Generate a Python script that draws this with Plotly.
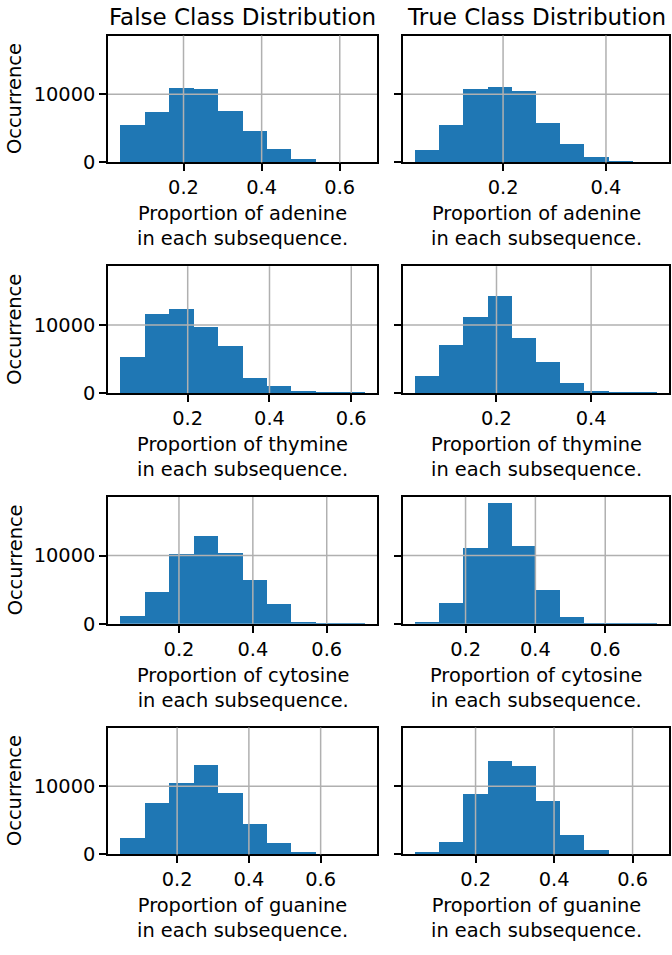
import numpy as np
import plotly.graph_objects as go

# Nucleotides shown row by row
bases = ["adenine", "thymine", "cytosine", "guanine"]
class_titles = ["False Class Distribution", "True Class Distribution"]

# Histogram bin extents (first left edge, last right edge), 10 equal bins each
false_bin_range = {
    "adenine": (0.038, 0.664),
    "thymine": (0.035, 0.633),
    "cytosine": (0.041, 0.703),
    "guanine": (0.0414, 0.723),
}
true_bin_range = {
    "adenine": (0.029, 0.499),
    "thymine": (0.028, 0.539),
    "cytosine": (0.0555, 0.748),
    "guanine": (0.046, 0.662),
}

# Occurrence counts per bin
false_adenine = [5530, 7450, 10910, 10820, 7550, 4660, 2070, 625, 100, 30]
true_adenine = [1830, 5580, 10820, 11100, 10530, 5820, 2790, 820, 190, 30]
false_thymine = [5290, 11620, 12250, 9660, 6910, 2210, 1080, 150, 40, 10]
true_thymine = [2450, 7010, 11130, 14220, 7990, 4510, 1520, 150, 30, 10]
false_cytosine = [1210, 4710, 10290, 12860, 10340, 6460, 2910, 340, 50, 10]
true_cytosine = [150, 3010, 11120, 17720, 11410, 4950, 970, 50, 10, 5]
false_guanine = [2520, 7670, 10490, 13110, 9030, 4560, 1800, 440, 50, 10]
true_guanine = [490, 1940, 8980, 13790, 13060, 7860, 2910, 730, 50, 10]

false_counts = {"adenine": false_adenine, "thymine": false_thymine,
                "cytosine": false_cytosine, "guanine": false_guanine}
true_counts = {"adenine": true_adenine, "thymine": true_thymine,
               "cytosine": true_cytosine, "guanine": true_guanine}

x_tick_values = [0.0, 0.2, 0.4, 0.6, 0.8]
y_tick_values = [0, 10000]
y_tick_labels = ["0", "10000"]

# Page geometry (pixels)
W, H = 672, 955
col_px = [(108, 377), (403, 669)]
row_top0, row_step, row_h = 36, 233.6, 128.5

BAR_COLOR = "#1f77b4"
GRID_COLOR = "#b0b0b0"
FONT = "DejaVu Sans"
TICK_SIZE = 19.4
TITLE_SIZE = 23

ymax = 1.05 * max(max(v) for d in (false_counts, true_counts) for v in d.values())

fig = go.Figure()
layout = dict(
    width=W, height=H,
    margin=dict(l=0, r=0, t=0, b=0),
    paper_bgcolor="white", plot_bgcolor="white",
    showlegend=False, bargap=0,
    font=dict(family=FONT, color="black", size=TICK_SIZE),
)
shapes, annotations = [], []

for i, base in enumerate(bases):
    top = row_top0 + i * row_step
    ydom = [1 - (top + row_h) / H, 1 - top / H]
    for j, (counts_map, range_map) in enumerate(((false_counts, false_bin_range),
                                                 (true_counts, true_bin_range))):
        k = i * 2 + j + 1
        sfx = "" if k == 1 else str(k)
        counts = counts_map[base]
        lo, hi = range_map[base]
        edges = np.linspace(lo, hi, len(counts) + 1)
        centers = (edges[:-1] + edges[1:]) / 2
        span = hi - lo
        xr = [lo - 0.05 * span, hi + 0.05 * span]

        fig.add_trace(go.Bar(
            x=centers, y=counts, width=edges[1] - edges[0],
            marker=dict(color=BAR_COLOR, line=dict(width=0)),
            xaxis="x" + sfx, yaxis="y" + sfx, hoverinfo="x+y",
        ))

        ticks_in = [t for t in x_tick_values if xr[0] < t < xr[1]]
        axis_common = dict(
            showline=True, linecolor="black", linewidth=1.5, mirror=True,
            ticks="outside", ticklen=7, tickwidth=1.5, tickcolor="black",
            showgrid=False, zeroline=False,
            tickfont=dict(family=FONT, size=TICK_SIZE, color="black"),
        )
        xd = [col_px[j][0] / W, col_px[j][1] / W]
        layout["xaxis" + sfx] = dict(
            axis_common, domain=xd, range=xr, anchor="y" + sfx,
            tickmode="array", tickvals=ticks_in,
            ticktext=[f"{t:.1f}" for t in ticks_in],
        )
        layout["yaxis" + sfx] = dict(
            axis_common, domain=ydom, range=[0, ymax], anchor="x" + sfx,
            tickmode="array", tickvals=y_tick_values, ticktext=y_tick_labels,
            showticklabels=(j == 0),
        )

        # grid drawn over the bars
        for t in ticks_in:
            shapes.append(dict(type="line", layer="above",
                               xref="x" + sfx, yref=f"y{sfx} domain",
                               x0=t, x1=t, y0=0, y1=1,
                               line=dict(color=GRID_COLOR, width=1.5)))
        for t in y_tick_values:
            if 0 < t < ymax:
                shapes.append(dict(type="line", layer="above",
                                   xref=f"x{sfx} domain", yref="y" + sfx,
                                   x0=0, x1=1, y0=t, y1=t,
                                   line=dict(color=GRID_COLOR, width=1.5)))

        annotations.append(dict(
            text=f"Proportion of {base}<br>in each subsequence.",
            xref=f"x{sfx} domain", yref=f"y{sfx} domain",
            x=0.5, y=0, xanchor="center", yanchor="top", yshift=-38,
            showarrow=False, font=dict(family=FONT, size=TICK_SIZE, color="black"),
        ))
        if i == 0:
            annotations.append(dict(
                text=class_titles[j],
                xref=f"x{sfx} domain", yref=f"y{sfx} domain",
                x=0.5, y=1, xanchor="center", yanchor="bottom", yshift=4,
                showarrow=False, font=dict(family=FONT, size=TITLE_SIZE, color="black"),
            ))
        if j == 0:
            annotations.append(dict(
                text="Occurrence", textangle=-90,
                xref="paper", yref=f"y{sfx} domain",
                x=15 / W, y=0.5, xanchor="center", yanchor="middle",
                showarrow=False, font=dict(family=FONT, size=TICK_SIZE, color="black"),
            ))

layout["shapes"] = shapes
layout["annotations"] = annotations
fig.update_layout(**layout)
fig.write_html("out.html")
